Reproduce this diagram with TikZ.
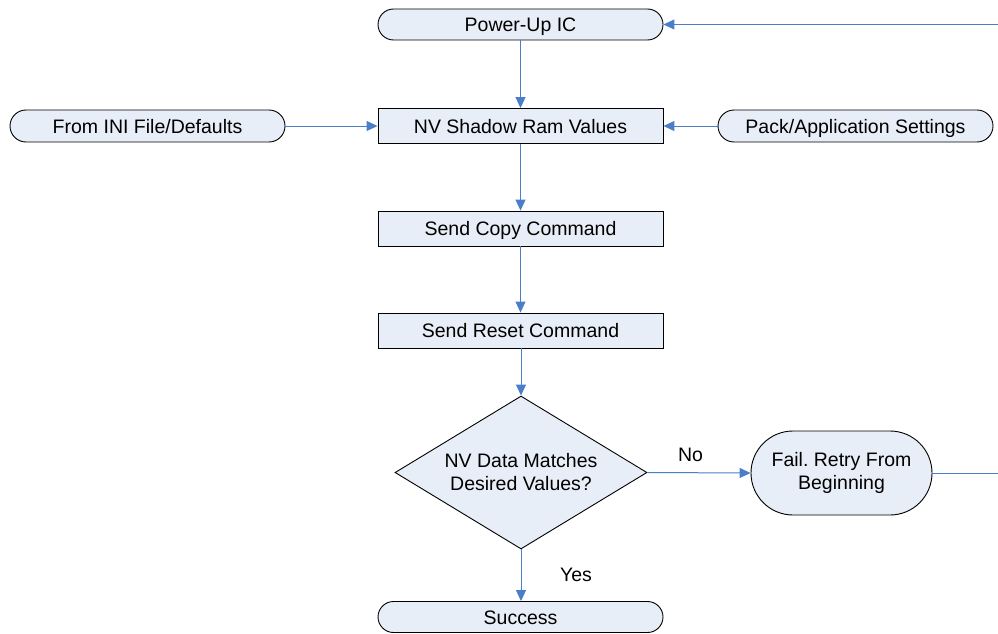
\documentclass[tikz,border=0pt]{standalone}
\usepackage{fontspec}
\setmainfont{Liberation Sans}
\usetikzlibrary{arrows.meta,shapes.geometric}
\definecolor{boxfill}{HTML}{E8EEF7}
\definecolor{linkblue}{HTML}{4A7EC8}
\frenchspacing
\begin{document}
\begin{tikzpicture}[x=1pt,y=-1pt,
  every node/.style={font=\fontsize{19.5}{23}\selectfont, inner sep=0pt},
  oneline/.style={text height=14pt, text depth=0pt},
  procbox/.style={oneline, draw=black, line width=0.9pt, fill=boxfill, minimum width=285pt, minimum height=35pt},
  termbox/.style={oneline, draw=black, line width=0.9pt, fill=boxfill, minimum width=285pt, minimum height=31pt, rounded corners=15.5pt},
  sidebox/.style={oneline, draw=black, line width=0.9pt, fill=boxfill, minimum width=275pt, minimum height=32pt, rounded corners=16pt},
  decbox/.style={draw=black, line width=0.9pt, fill=boxfill, shape=diamond, minimum width=252pt, minimum height=153pt, aspect=1.65, align=center},
  failbox/.style={draw=black, line width=0.9pt, fill=boxfill, minimum width=181pt, minimum height=84pt, rounded corners=42pt, align=center},
  link/.style={draw=linkblue, line width=1pt, -{Triangle[length=11pt,width=10pt]}},
  plainlink/.style={draw=linkblue, line width=1pt},
  lbl/.style={oneline}
]
\useasboundingbox (0,0) rectangle (998,634);
\node[termbox] (power) at (520.5,24.5) {Power-Up IC};
\node[sidebox] (ini) at (147.5,126) {From INI File/Defaults};
\node[procbox] (nv) at (520.5,126) {NV Shadow Ram Values};
\node[sidebox] (pack) at (855.5,126) {Pack/Application Settings};
\node[procbox] (copy) at (520.5,228.5) {Send Copy Command};
\node[procbox] (reset) at (520.5,330.5) {Send Reset Command};
\node[decbox] (dec) at (521,472.5) {NV Data Matches\\Desired Values?};
\node[failbox] (fail) at (841.5,473) {Fail. Retry From\\Beginning};
\node[termbox] (succ) at (520.5,617) {Success};
\coordinate (rloop) at (998,473);
\coordinate (rtop) at (998,24.5);
\node[lbl] (no) at (690.5,454) {No};
\node[lbl] (yes) at (576,574.5) {Yes};

\draw[link] (power.south) -- (nv.north);
\draw[link] (ini.east) -- (nv.west);
\draw[link] (pack.west) -- (nv.east);
\draw[link] (nv.south) -- (copy.north);
\draw[link] (copy.south) -- (reset.north);
\draw[link] (reset.south -| dec.north) -- (dec.north);
\draw[link] (dec.east) -- (fail.west);
\draw[link] (dec.south) -- (dec.south |- succ.north);
\draw[plainlink] (fail.east) -- (rloop);
\draw[link] (rtop) -- (power.east);
\end{tikzpicture}
\end{document}
